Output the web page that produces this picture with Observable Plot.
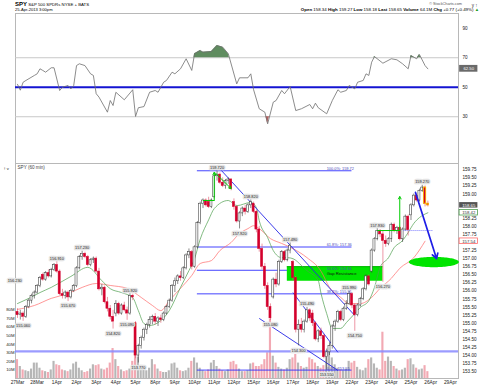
<!DOCTYPE html>
<html>
<head>
<meta charset="utf-8">
<script src="https://cdn.jsdelivr.net/npm/d3@7"></script>
<script src="https://cdn.jsdelivr.net/npm/@observablehq/plot@0.6"></script>
<style>
html,body{margin:0;padding:0;background:#fff;}
#chart{position:relative;width:480px;height:387px;overflow:hidden;background:#fff;}
#chart svg{position:absolute;left:0;}
</style>
</head>
<body>
<div id="chart"></div>
<script>
// ================= DATA =================
const dayLabels = ["27Mar","28Mar","1Apr","2Apr","3Apr","4Apr","5Apr","8Apr","9Apr","10Apr","11Apr","12Apr","15Apr","16Apr","17Apr","18Apr","19Apr","22Apr","23Apr","24Apr","25Apr","26Apr","29Apr"];
const barsPerDay = 7;

// hourly candles per trading day: [open, high, low, close]
const candleDays = [
 [[155.35,155.45,155.15,155.25],[155.25,155.40,155.10,155.30],[155.30,155.35,155.06,155.20],[155.20,155.55,155.15,155.50],[155.50,155.75,155.45,155.70],[155.70,155.90,155.60,155.85],[155.85,156.00,155.75,155.95]],
 [[155.95,156.20,155.90,156.15],[156.15,156.45,156.10,156.40],[156.50,156.55,156.30,156.35],[156.35,156.60,156.30,156.55],[156.55,156.65,156.40,156.45],[156.45,156.70,156.40,156.65],[156.65,156.85,156.60,156.80]],
 [[156.80,156.91,156.55,156.60],[156.60,156.65,155.85,155.90],[155.90,156.05,155.75,155.85],[155.85,156.00,155.75,155.95],[155.95,156.00,155.67,155.80],[155.80,156.05,155.75,156.00],[156.00,156.20,155.95,156.15]],
 [[156.15,156.75,156.10,156.70],[156.70,157.10,156.65,157.05],[157.05,157.23,156.95,157.15],[157.15,157.20,157.00,157.05],[157.05,157.10,156.75,156.80],[156.80,157.00,156.75,156.95],[156.95,157.05,156.85,157.00]],
 [[157.00,157.05,156.55,156.60],[156.60,156.70,156.00,156.05],[156.05,156.20,155.85,156.10],[156.10,156.15,155.60,155.65],[155.65,155.80,155.35,155.45],[155.45,155.55,155.10,155.20],[155.20,155.40,154.82,155.05]],
 [[155.30,155.70,155.20,155.60],[155.60,155.65,155.25,155.30],[155.30,155.60,155.25,155.55],[155.55,155.65,155.35,155.40],[155.40,155.50,155.09,155.30],[155.30,155.92,155.25,155.85],[155.85,155.90,155.70,155.80]],
 [[155.00,155.05,153.90,154.00],[154.00,154.35,153.77,154.30],[154.30,154.60,154.20,154.55],[154.55,154.85,154.45,154.80],[154.80,155.00,154.65,154.95],[154.95,155.20,154.85,155.10],[155.10,155.25,154.95,155.20]],
 [[155.20,155.30,154.95,155.05],[155.05,155.20,154.90,155.15],[155.15,155.25,155.00,155.10],[155.10,155.35,155.05,155.30],[155.30,155.55,155.25,155.50],[155.50,155.75,155.45,155.70],[155.70,156.20,155.65,156.15]],
 [[156.15,156.40,155.95,156.30],[156.30,156.50,156.20,156.45],[156.45,156.60,156.30,156.40],[156.40,156.75,156.35,156.70],[156.70,157.15,156.65,157.10],[157.10,157.30,157.00,157.20],[157.20,157.25,156.65,156.75]],
 [[156.75,157.40,156.70,157.35],[157.35,158.15,157.30,158.10],[158.10,158.75,158.05,158.70],[158.70,158.85,158.55,158.80],[158.80,158.85,158.60,158.65],[158.75,158.90,158.55,158.60],[158.60,158.85,158.55,158.80]],
 [[158.90,159.60,158.85,159.55],[159.55,159.72,159.40,159.60],[159.60,159.65,159.30,159.35],[159.35,159.50,159.20,159.25],[159.25,159.45,159.15,159.40],[159.40,159.50,159.30,159.45],[159.45,159.48,159.10,159.15]],
 [[158.75,158.85,158.50,158.60],[158.60,158.65,158.10,158.15],[158.15,158.45,157.92,158.40],[158.40,158.60,158.30,158.55],[158.55,158.65,158.35,158.45],[158.45,158.70,158.40,158.65],[158.65,158.82,158.55,158.75]],
 [[158.70,158.75,158.40,158.45],[158.45,158.50,157.80,157.90],[157.90,158.00,157.20,157.30],[157.30,157.45,156.65,156.75],[156.75,156.85,156.05,156.15],[156.15,156.25,155.40,155.50],[155.50,155.60,155.08,155.15]],
 [[155.80,156.40,155.75,156.35],[156.35,156.55,156.10,156.20],[156.20,156.95,156.15,156.90],[156.90,157.25,156.85,157.20],[157.20,157.25,156.90,156.95],[156.95,157.30,156.90,157.25],[157.25,157.49,157.15,157.40]],
 [[156.90,156.95,156.30,156.40],[156.40,156.45,154.70,154.80],[154.80,155.10,154.30,154.95],[154.95,155.15,154.70,154.80],[154.80,155.10,154.70,155.05],[155.05,155.49,155.00,155.40],[155.40,155.45,155.05,155.15]],
 [[155.30,155.40,154.90,155.00],[155.00,155.05,154.45,154.50],[154.50,154.80,154.40,154.75],[154.75,154.85,154.50,154.60],[154.60,154.65,153.90,153.95],[153.95,154.20,153.55,154.10],[154.10,154.40,154.00,154.30]],
 [[154.30,154.95,154.20,154.90],[154.90,155.10,154.75,155.05],[155.05,155.40,155.00,155.35],[155.35,155.40,155.05,155.10],[155.10,155.50,155.05,155.45],[155.45,155.70,155.40,155.60],[155.60,155.99,155.55,155.90]],
 [[155.90,155.95,155.45,155.55],[155.55,155.60,154.75,155.25],[155.25,155.60,155.20,155.55],[155.55,155.80,155.50,155.75],[155.75,156.10,155.70,156.05],[156.05,156.50,156.00,156.45],[156.45,156.50,156.15,156.20]],
 [[156.60,157.30,156.55,157.25],[157.25,157.65,157.20,157.60],[157.60,157.93,157.55,157.85],[157.85,157.90,157.65,157.75],[157.75,157.85,156.27,157.55],[157.55,157.70,157.35,157.45],[157.45,157.65,157.40,157.60]],
 [[157.60,158.10,157.50,158.05],[158.05,158.10,157.80,157.85],[157.85,158.00,157.75,157.95],[157.95,158.00,157.55,157.60],[157.60,157.95,157.50,157.90],[157.90,158.35,157.85,158.30],[158.30,158.35,157.70,157.88]],
 [[158.34,158.70,158.18,158.65],[158.65,159.00,158.60,158.95],[158.95,159.00,158.75,158.80],[158.80,159.15,158.75,159.10],[159.10,159.27,159.05,159.20],[159.20,159.25,158.60,158.70],[158.70,158.78,158.60,158.65]]
];

// hourly volume, millions of shares
const volumeDays = [
 [22,14,10,9,8,11,18],[18,12,9,8,7,10,20],[16,15,10,9,8,10,17],[19,12,9,7,8,11,16],
 [15,16,11,10,12,18,35],[22,14,10,8,9,11,20],[30,25,14,10,9,12,22],[16,11,8,7,7,9,17],
 [18,12,9,8,9,12,20],[24,18,12,9,8,10,18],[21,14,11,9,8,10,19],[20,16,11,8,8,9,17],
 [18,14,14,16,22,30,69],[26,18,13,11,10,12,22],[24,28,18,14,12,13,24],[22,18,14,12,15,30,35],
 [24,16,12,10,9,11,20],[18,20,13,10,9,12,22],[24,17,12,10,54,20,25],[20,14,11,9,10,12,22],
 [23,16,12,10,11,15,8]
];

// RSI(14) read at bar indexes: [bar, value]
const rsiPoints = [[0,52],[1,48],[2,53.4],[3,54.6],[6,58],[7,59.1],[8,62.5],[9,61.4],[10,60.2],[12,63.2],[13,63.2],[15,47.8],[16,50],[18,51.2],[19,48.9],[20,51.2],[21,64.7],[22,65.9],[24,64.7],[26,59.1],[27,58],[28,45.6],[29,43.3],[32,33.1],[33,41],[34,37.6],[35,46.6],[38,41.5],[41,48.3],[42,30.2],[43,36.1],[45,36.9],[47,46.6],[49,47.8],[50,46.6],[52,53.4],[53,54.6],[55,60.2],[56,59.1],[58,62.5],[60,69.3],[62,61.4],[63,72.7],[65,74.9],[66,73.8],[69,74.2],[71,78.3],[73,77.2],[75,72.7],[78,52.3],[79,56.4],[82,56.4],[83,59.1],[84,48.3],[86,35.4],[88,33.1],[89,25.2],[91,39.9],[92,41],[94,47.8],[95,45.6],[97,50.5],[99,34.2],[101,35.4],[104,38.3],[105,35.4],[106,39.2],[107,36.1],[110,32],[112,41],[114,48.3],[115,46.6],[117,47.8],[118,51.2],[120,48.9],[121,53.4],[123,54.6],[124,59.1],[125,58],[126,67],[127,70.8],[130,66.3],[133,69.3],[135,68.6],[137,65.9],[139,62.5],[140,71.5],[142,69.3],[143,72.2],[145,64.7],[146,62.5]];
const rsiLevels = {upper: 70, mid: 50, lower: 30};
const rsiTicks = [30, 50, 70, 90];

// moving averages read at bar indexes: [bar, price]
const maFast = [[0,155.61],[4,155.77],[8,155.95],[12,156.11],[19,156.45],[25,156.73],[30,156.32],[33,156.07],[37,155.95],[41,155.79],[43,155.39],[45,154.99],[47,154.93],[50,155.02],[54,155.39],[58,156.11],[61,156.63],[63,157.0],[65,157.6],[68,158.2],[70,158.55],[75,158.80],[78,158.64],[83,158.74],[85,158.58],[86,158.18],[89,157.65],[91,157.25],[94,157.03],[96,157.03],[98,157.0],[101,156.79],[103,156.63],[107,156.32],[108,155.92],[110,155.30],[112,154.84],[115,154.84],[117,155.02],[120,155.30],[122,155.49],[125,155.70],[127,156.11],[129,156.73],[132,157.03],[134,157.34],[137,157.56],[139,157.81],[141,158.09],[143,158.27],[146,158.42]];
const maSlow = [[0,155.43],[6,155.55],[12,155.77],[18,155.92],[23,156.11],[28,156.23],[33,156.17],[39,156.08],[44,155.80],[48,155.55],[51,155.39],[54,155.70],[58,156.08],[62,156.48],[65,156.85],[69,156.94],[72,157.25],[76,157.50],[79,157.78],[82,157.93],[84,158.02],[86,157.93],[90,157.62],[94,157.47],[98,157.31],[103,157.03],[108,156.61],[111,156.11],[115,155.80],[118,155.61],[122,155.61],[126,155.80],[129,156.08],[133,156.39],[136,156.70],[141,157.03],[145,157.54]];

// swing high/low annotations: [bar, price]
const swingHighs = [[-1,156.23],[14,156.91],[23,157.23],[40,155.92],[71,159.72],[83,158.82],[97,157.49],[103,155.49],[118,155.99],[128,157.93],[144,159.27]];
const swingLows = [[2,155.06],[18,155.67],[34,154.82],[39,155.09],[43,153.77],[79,157.92],[90,155.08],[100,154.30],[110,153.55],[120,154.75],[130,156.27]];

// Fibonacci retracement
const fibLevels = [{pct:"100.0%", p:159.72},{pct:"61.8%", p:157.36},{pct:"50.0%", p:156.64},{pct:"38.2%", p:155.91},{pct:"0.0%", p:153.55}];
const fibSpan = {from: 64, to: 119, labelAt: 110};

const supportLevel = 154.13;
// trend lines [bar1, price1, bar2, price2]
const trendLines = [[72,159.78,120,155.24],[98,155.95,114,154.10],[86,155.15,114,153.54]];
const gapZone = {from: 96, to: 130, low: 156.30, high: 156.75, labelAt: 110, label: "Gap Resistance"};
const moveBases = [[66,158.80,70,158.80],[128,157.87,136,157.87]];
const moveArrows = [[70,158.80,70,159.67],[70.5,159.64,76,159.17],[136,157.87,136,158.92]];
const projection = [[141.6,159.05,149.1,157.0]];
const projectionGuide = [[137.3,157.87,147.6,157.87]];
const target = {bar: 148.3, price: 156.88, barRadius: 8.9, priceRadius: 0.16};

const priceTicks = [153.5,153.75,154,154.25,154.5,154.75,155,155.25,155.5,155.75,156,156.25,156.5,156.75,157,157.25,157.5,157.75,158,158.25,158.5,158.75,159,159.25,159.5,159.75];
const volumeTicks = [10,20,30,40,50,60,70,80];

const header = {symbol: "SPY", name: "S&P 500 SPDRs NYSE + BATS", date: "25-Apr-2013 3:00pm", source: "© StockCharts.com",
  quote: [["Open","158.34"],["High","159.27"],["Low","158.18"],["Last","158.65"],["Volume","64.1M"],["Chg","+0.77 (+0.49%)"]]};
const panelTitle = "SPY (60 min)";

// ================= BUILD =================
const FONT = "'Liberation Sans', Arial, Helvetica, sans-serif";
const RED = "#d3002c";
const X_DOMAIN = [-0.71, 156.9];

const bars = candleDays.flatMap((day, d) => day.map(([o, h, l, c], k) => ({
  b: d * barsPerDay + k, o, h, l, c, v: volumeDays[d][k], up: c >= o
})));
const lastBar = bars[bars.length - 1];
const dayTicks = dayLabels.map((_, i) => i * barsPerDay);

function bandFill(points, level, keepAbove) {
  const out = [];
  points.forEach(([b, v], i) => {
    if (i > 0) {
      const [b0, v0] = points[i - 1];
      if ((v0 - level) * (v - level) < 0) {
        const t = (level - v0) / (v - v0);
        out.push({b: b0 + t * (b - b0), y: level});
      }
    }
    out.push({b, y: keepAbove ? Math.max(v, level) : Math.min(v, level)});
  });
  return out;
}
const overbought = bandFill(rsiPoints, rsiLevels.upper, true);
const oversold = bandFill(rsiPoints, rsiLevels.lower, false);

const ellipse = d3.range(0, 49).map(i => {
  const t = Math.PI * i / 48;
  return {b: target.bar + target.barRadius * Math.cos(t),
          y1: target.price - target.priceRadius * Math.sin(t),
          y2: target.price + target.priceRadius * Math.sin(t)};
});

const common = {
  width: 480, marginLeft: 15, marginRight: 22,
  style: {fontFamily: FONT, background: "transparent", overflow: "visible", color: "#222"}
};
const BOX_X1 = X_DOMAIN[1] + 0.4, BOX_X2 = X_DOMAIN[1] + 6.9;
const seg = {x1: d => d[0], y1: d => d[1], x2: d => d[2], y2: d => d[3]};
const labelStyle = {x: d => d[0], y: d => d[1], text: d => d[1].toFixed(3), fontSize: 3.9, fill: "#222",
  stroke: "#e4e4e4", strokeWidth: 2.6, paintOrder: "stroke"};

// ---- RSI panel ----
const lastRsi = rsiPoints[rsiPoints.length - 1][1];
const rsi = Plot.plot({
  ...common, height: 163, marginTop: 13, marginBottom: 0,
  x: {domain: X_DOMAIN, axis: null},
  y: {domain: [-1.7, 100], axis: null},
  marks: [
    Plot.frame({stroke: "#b8b8b8"}),
    Plot.ruleY([rsiLevels.upper, rsiLevels.lower], {stroke: "#c8c8c8"}),
    Plot.areaY(overbought, {x: "b", y1: rsiLevels.upper, y2: "y", fill: "#5f8c5f"}),
    Plot.areaY(oversold, {x: "b", y1: rsiLevels.lower, y2: "y", fill: "#b46262"}),
    Plot.ruleY([rsiLevels.mid], {stroke: "#1414d2", strokeWidth: 1.8}),
    Plot.line(rsiPoints, {x: d => d[0], y: d => d[1], stroke: "#6e6e6e", strokeWidth: 0.8}),
    Plot.axisY({ticks: rsiTicks, anchor: "right", tickSize: 0, tickPadding: 4, fontSize: 4.6}),
    Plot.rect([lastRsi], {x1: BOX_X1, x2: BOX_X2, y1: d => d - 2.3, y2: d => d + 2.3, fill: "#6a6a6a"}),
    Plot.text([lastRsi], {x: (BOX_X1 + BOX_X2) / 2, y: d => d, text: d => d.toFixed(2), fill: "white", fontSize: 4.2})
  ]
});

// ---- Volume (behind price) ----
const vol = Plot.plot({
  ...common, height: 224, marginTop: 0, marginBottom: 9,
  x: {domain: X_DOMAIN, axis: null},
  y: {domain: [0, 250.9], axis: null},
  marks: [
    Plot.rect(bars, {x1: d => d.b - 0.38, x2: d => d.b + 0.38, y1: 0, y2: "v", fill: d => d.up ? "#b6b6b6" : "#f2a9b3"}),
    Plot.axisY({ticks: volumeTicks, anchor: "left", tickSize: 0, tickPadding: 1, tickFormat: d => d + "M", fontSize: 4.3})
  ]
});

// ---- Price panel ----
const fastLast = maFast[maFast.length - 1][1];
const slowLast = maSlow[maSlow.length - 1][1];
const boxed = [lastBar.c, fastLast, slowLast];
const visibleTicks = priceTicks.filter(t => boxed.every(v => Math.abs(v - t) > 0.13));
const price = Plot.plot({
  ...common, height: 224, marginTop: 0, marginBottom: 9,
  x: {domain: X_DOMAIN, axis: null},
  y: {domain: [153.29, 159.945], axis: null},
  marks: [
    Plot.frame({stroke: "#b8b8b8"}),
    Plot.ruleY([supportLevel], {stroke: "#8a8aff", strokeWidth: 2.2, strokeOpacity: 0.85}),
    Plot.ruleY(fibLevels, {y: "p", x1: fibSpan.from, x2: fibSpan.to, stroke: "#2f2fff", strokeWidth: 0.9}),
    Plot.rect([gapZone], {x1: "from", x2: "to", y1: "low", y2: "high", fill: "#00e400"}),
    Plot.ruleY([gapZone], {x1: "from", x2: "to", y: "high", stroke: "#00b400", strokeWidth: 1}),
    Plot.line(maSlow, {x: d => d[0], y: d => d[1], stroke: "#ff6a6a", strokeWidth: 0.7, curve: "monotone-x"}),
    Plot.line(maFast, {x: d => d[0], y: d => d[1], stroke: "#4e9e4e", strokeWidth: 0.7, curve: "monotone-x"}),
    Plot.link(trendLines, {...seg, stroke: "#2626e6", strokeWidth: 0.9}),
    // candles
    Plot.ruleX(bars, {x: "b", y1: "l", y2: "h", stroke: d => d.up ? "#3a3a3a" : "#e0506a", strokeWidth: 0.6}),
    Plot.rect(bars, {x1: d => d.b - 0.36, x2: d => d.b + 0.36, y1: "o", y2: "c",
      fill: d => d.up ? "white" : RED, stroke: d => d.up ? "#3a3a3a" : RED, strokeWidth: 0.55}),
    Plot.rect(bars.slice(-2), {x1: d => d.b - 0.42, x2: d => d.b + 0.42, y1: "o", y2: "c", fill: RED, stroke: "#ffd400", strokeWidth: 0.8}),
    // measured moves / projection
    Plot.link(moveBases, {...seg, stroke: "#00cc00", strokeWidth: 1}),
    Plot.arrow(moveArrows, {...seg, stroke: "#00cc00", strokeWidth: 1, headLength: 4}),
    Plot.link(projectionGuide, {...seg, stroke: "#7a7aff", strokeWidth: 1, strokeDasharray: "1,1"}),
    Plot.areaY(ellipse, {x: "b", y1: "y1", y2: "y2", fill: "#00e400"}),
    Plot.arrow(projection, {...seg, stroke: "#1e1ee6", strokeWidth: 1.7, headLength: 5}),
    // texts
    Plot.text([panelTitle], {frameAnchor: "top-left", dx: 2, dy: 2, lineAnchor: "top", textAnchor: "start", fontSize: 4.6, fill: "#444"}),
    Plot.text(fibLevels, {x: fibSpan.labelAt, y: "p", text: d => `${d.pct}: ${d.p.toFixed(2)}`, textAnchor: "start", lineAnchor: "bottom", dy: -0.6, fontSize: 3.9, fill: "#4848b8"}),
    Plot.text([gapZone], {x: "labelAt", y: d => (d.low + d.high) / 2, text: "label", textAnchor: "start", fontSize: 4.2, fill: "#111"}),
    Plot.text(swingHighs, {...labelStyle, lineAnchor: "bottom", dy: -2}),
    Plot.text(swingLows, {...labelStyle, lineAnchor: "top", dy: 3}),
    // axes
    Plot.axisY({ticks: visibleTicks, anchor: "right", tickSize: 0, tickPadding: 4, tickFormat: d => d.toFixed(2), fontSize: 4.6}),
    Plot.axisX({ticks: dayTicks, anchor: "bottom", tickSize: 0, tickPadding: 2.5, tickFormat: d => dayLabels[d / barsPerDay], fontSize: 4.8}),
    // current value boxes
    Plot.rect([slowLast], {x1: BOX_X1, x2: BOX_X2, y1: d => d - 0.085, y2: d => d + 0.085, fill: "white", stroke: "#ff6a6a", strokeWidth: 0.8}),
    Plot.text([slowLast], {x: (BOX_X1 + BOX_X2) / 2, y: d => d, text: d => d.toFixed(2), fill: "#333", fontSize: 4.3}),
    Plot.rect([fastLast], {x1: BOX_X1, x2: BOX_X2, y1: d => d - 0.085, y2: d => d + 0.085, fill: "white", stroke: "#4e9e4e", strokeWidth: 0.8}),
    Plot.text([fastLast], {x: (BOX_X1 + BOX_X2) / 2, y: d => d, text: d => d.toFixed(2), fill: "#333", fontSize: 4.3}),
    Plot.rect([lastBar.c], {x1: BOX_X1, x2: BOX_X2, y1: d => d - 0.085, y2: d => d + 0.085, fill: "#555"}),
    Plot.text([lastBar.c], {x: (BOX_X1 + BOX_X2) / 2, y: d => d, text: d => d.toFixed(2), fill: "white", fontSize: 4.3})
  ]
});

const chart = document.getElementById("chart");
rsi.style.top = "0px";
vol.style.top = "163px";
price.style.top = "163px";
chart.append(rsi, vol, price);

// header text
const hg = d3.select(rsi).append("g").attr("font-family", FONT).attr("fill", "#000").style("text-anchor", "start");
const t1 = hg.append("text").attr("x", 15).attr("y", 6.4).attr("font-size", 4.3).style("text-anchor", "start");
t1.append("tspan").attr("font-weight", "bold").attr("font-size", 6).text(header.symbol);
t1.append("tspan").text(" " + header.name);
hg.append("text").attr("x", 15).attr("y", 11.3).attr("font-size", 4.1).style("text-anchor", "start").text(header.date);
hg.append("text").attr("x", 462).attr("y", 5.2).style("text-anchor", "end").attr("font-size", 3.8).attr("fill", "#555").text(header.source);
const t2 = hg.append("text").attr("x", 479).attr("y", 11.3).style("text-anchor", "end").attr("font-size", 4.4);
header.quote.forEach(([k, v]) => {
  t2.append("tspan").attr("font-weight", "bold").text(k + " ");
  t2.append("tspan").text(v + " ");
});
t2.append("tspan").attr("fill", "#1a9a1a").text("▲");
</script>
</body>
</html>
